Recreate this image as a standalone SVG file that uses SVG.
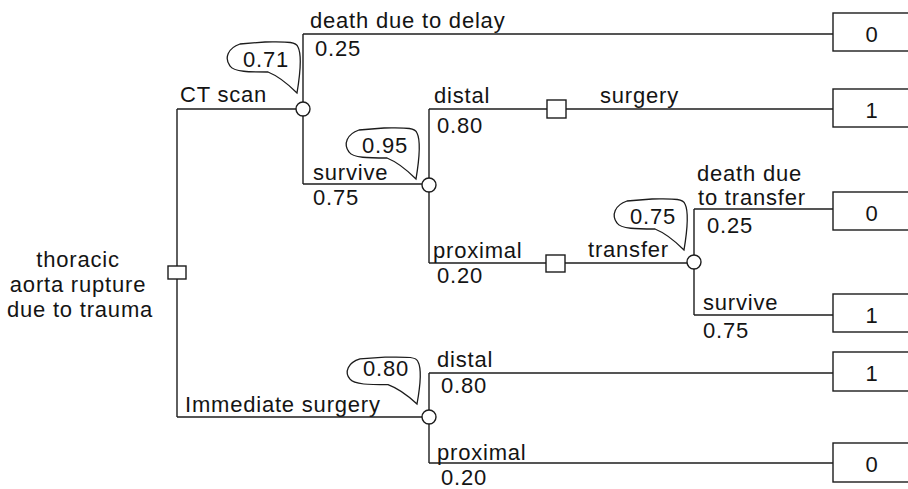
<svg xmlns="http://www.w3.org/2000/svg" xmlns:xlink="http://www.w3.org/1999/xlink" width="908" height="489" viewBox="0 0 908 489">
  <style>
    .ln { stroke: #1c1c1c; stroke-width: 1.4; fill: none; }
    .nd { stroke: #1c1c1c; stroke-width: 1.4; fill: #ffffff; }
    .bl { stroke: #1c1c1c; stroke-width: 1.3; fill: #ffffff; }
    text { font-family: "Liberation Sans", Arial, Helvetica, sans-serif; font-size: 22px; letter-spacing: 0.8px; fill: #141414; }
    .mid { text-anchor: middle; }
  </style>
  <defs>
    <!-- probability balloon, tail tip at the origin -->
    <path id="balloon" d="M0,0 C3,-18 5,-38 1,-46 C-1,-52 -12,-51 -32,-51 L-57,-49 C-69,-45 -73,-35 -67,-27 C-63,-21 -47,-21 -29,-21 C-19,-17 -7,-7 0,0 Z"/>
  </defs>
  <rect width="908" height="489" fill="#ffffff"/>

  <!-- branches -->
  <g id="connectors">
    <path class="ln" d="M177,109 V417"/>
    <path class="ln" d="M177,109 H303"/>
    <path class="ln" d="M177,417 H429"/>
    <path class="ln" d="M303,34 V184"/>
    <path class="ln" d="M303,34 H833"/>
    <path class="ln" d="M303,184 H429"/>
    <path class="ln" d="M429,109 V263"/>
    <path class="ln" d="M429,109 H833"/>
    <path class="ln" d="M429,263 H694"/>
    <path class="ln" d="M694,209 V315"/>
    <path class="ln" d="M694,209 H833"/>
    <path class="ln" d="M694,315 H833"/>
    <path class="ln" d="M429,373 V463"/>
    <path class="ln" d="M429,373 H833"/>
    <path class="ln" d="M429,463 H833"/>
  </g>

  <!-- branch labels -->
  <g id="labels">
    <text x="310" y="28">death due to delay</text>
    <text x="315" y="56">0.25</text>
    <text x="180" y="102">CT scan</text>
    <text x="313" y="180">survive</text>
    <text x="313" y="205">0.75</text>
    <text x="434" y="103">distal</text>
    <text x="437" y="133">0.80</text>
    <text x="600" y="103">surgery</text>
    <text x="433" y="258">proximal</text>
    <text x="437" y="283">0.20</text>
    <text x="588" y="257">transfer</text>
    <text x="697" y="181">death due</text>
    <text x="698" y="205">to transfer</text>
    <text x="707" y="233">0.25</text>
    <text x="703" y="310">survive</text>
    <text x="703" y="338">0.75</text>
    <text x="185" y="412">Immediate surgery</text>
    <text x="437" y="367">distal</text>
    <text x="441" y="393">0.80</text>
    <text x="437" y="460">proximal</text>
    <text x="441" y="485">0.20</text>
  </g>

  <!-- root decision -->
  <g id="root">
    <text class="mid" x="78" y="267">thoracic</text>
    <text class="mid" x="78" y="292">aorta rupture</text>
    <text class="mid" x="80" y="317">due to trauma</text>
    <rect class="nd" x="168" y="266" width="18" height="13"/>
  </g>

  <!-- chance nodes with their probability balloons -->
  <g id="chance-ct">
    <use href="#balloon" xlink:href="#balloon" class="bl" transform="translate(297,93)"/>
    <text x="243" y="67">0.71</text>
    <circle class="nd" cx="303" cy="109" r="7"/>
  </g>
  <g id="chance-survive">
    <use href="#balloon" xlink:href="#balloon" class="bl" transform="translate(416,179)"/>
    <text x="362" y="153">0.95</text>
    <circle class="nd" cx="429" cy="185" r="7"/>
  </g>
  <g id="chance-transfer">
    <use href="#balloon" xlink:href="#balloon" class="bl" transform="translate(684,250)"/>
    <text x="630" y="224">0.75</text>
    <circle class="nd" cx="694" cy="262" r="7"/>
  </g>
  <g id="chance-immediate">
    <use href="#balloon" xlink:href="#balloon" class="bl" transform="translate(417,404) scale(1,0.92)"/>
    <text x="363" y="376">0.80</text>
    <circle class="nd" cx="429" cy="417" r="7"/>
  </g>

  <!-- decision nodes -->
  <g id="decision-surgery">
    <rect class="nd" x="547" y="100" width="19" height="18"/>
  </g>
  <g id="decision-transfer">
    <rect class="nd" x="546" y="255" width="19" height="17"/>
  </g>

  <!-- outcome values -->
  <g id="outcome-delay">
    <rect class="nd" x="833" y="13" width="80" height="38"/>
    <text class="mid" x="872" y="42">0</text>
  </g>
  <g id="outcome-distal-surgery">
    <rect class="nd" x="833" y="89" width="80" height="38"/>
    <text class="mid" x="872" y="118">1</text>
  </g>
  <g id="outcome-transfer-death">
    <rect class="nd" x="833" y="192" width="80" height="38"/>
    <text class="mid" x="872" y="221">0</text>
  </g>
  <g id="outcome-transfer-survive">
    <rect class="nd" x="833" y="294" width="80" height="38"/>
    <text class="mid" x="872" y="323">1</text>
  </g>
  <g id="outcome-immediate-distal">
    <rect class="nd" x="833" y="352" width="80" height="39"/>
    <text class="mid" x="872" y="381">1</text>
  </g>
  <g id="outcome-immediate-proximal">
    <rect class="nd" x="833" y="443" width="80" height="39"/>
    <text class="mid" x="872" y="472">0</text>
  </g>
</svg>
